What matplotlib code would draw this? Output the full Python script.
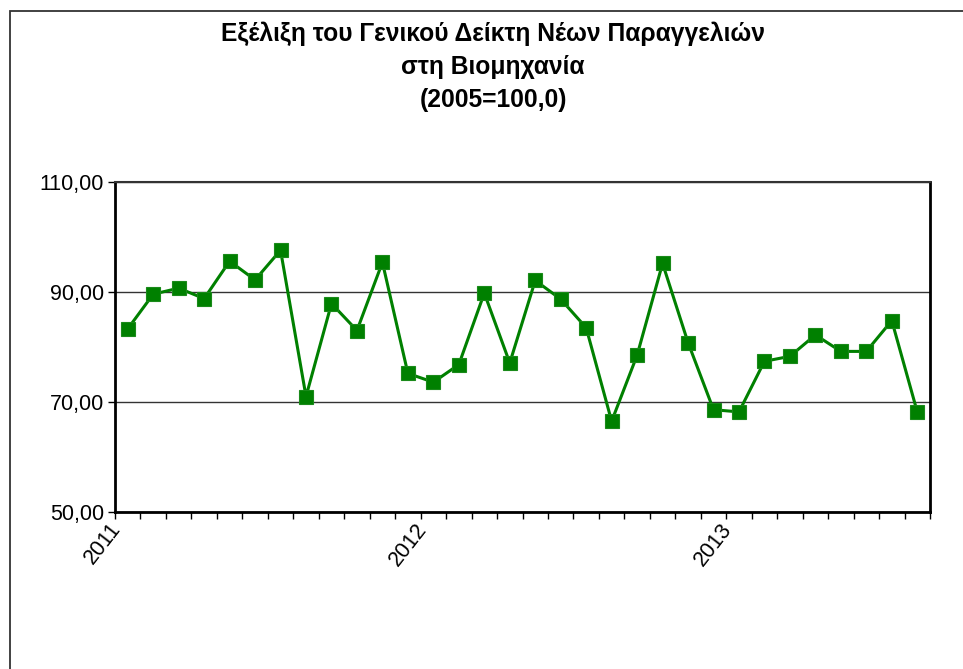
import numpy as np
import matplotlib
matplotlib.use("Agg")
import matplotlib.pyplot as plt
import matplotlib.transforms as mtransforms
from matplotlib.ticker import FixedLocator, FuncFormatter, NullFormatter
from matplotlib.patches import Rectangle

# monthly index, Jan 2011 - Aug 2013
values = [83.3, 89.6, 90.7, 88.8, 95.6, 92.2, 97.6, 71.0, 87.9, 83.0, 95.4, 75.2,
          73.6, 76.8, 89.8, 77.1, 92.1, 88.7, 83.5, 66.5, 78.5, 95.2, 80.8, 68.6,
          68.2, 77.4, 78.3, 82.2, 79.2, 79.2, 84.8, 68.2]
year_labels = ["2011", "2012", "2013"]
year_pos = [0, 12, 24]
y_ticks = [50, 70, 90, 110]

title_lines = ["Εξέλιξη του Γενικού Δείκτη Νέων Παραγγελιών",
               "στη Βιομηχανία",
               "(2005=100,0)"]

plt.rcParams['font.family'] = ['Liberation Sans', 'DejaVu Sans']

fig = plt.figure(figsize=(9.63, 6.69), dpi=100)
W, H = 963, 669

# outer chart border (runs off right and bottom edges)
fig.patches.append(Rectangle((10 / W, -0.05), 1.1, 1 - 11 / H + 0.05,
                             transform=fig.transFigure, fill=False,
                             edgecolor="#333333", linewidth=1.3))

ax = fig.add_axes([115 / W, (H - 512) / H, (930 - 115) / W, (512 - 182) / H])

x = np.arange(len(values))
ax.plot(x, values, color="#008000", linewidth=2.2, marker="s", markersize=10.5,
        markerfacecolor="#008000", markeredgecolor="#1a8a1a", markeredgewidth=0.8,
        zorder=3)

ax.set_xlim(-0.5, len(values) - 0.5)
ax.set_ylim(50, 110)

ax.yaxis.set_major_locator(FixedLocator(y_ticks))
ax.yaxis.set_major_formatter(FuncFormatter(lambda v, p: f"{v:.2f}".replace(".", ",")))
ax.tick_params(axis="y", direction="out", length=5, width=1, labelsize=15.5, pad=3)
ax.grid(axis="y", color="#333333", linewidth=1)

# category ticks at month boundaries, year labels placed by hand
ax.xaxis.set_major_locator(FixedLocator(np.arange(-0.5, len(values), 1.0)))
ax.xaxis.set_major_formatter(NullFormatter())
ax.tick_params(axis="x", direction="out", length=5, width=1)
lab_tr = mtransforms.offset_copy(ax.get_xaxis_transform(), fig=fig, x=-19, y=-7, units="dots")
for pos, lab in zip(year_pos, year_labels):
    ax.text(pos, 0, lab, transform=lab_tr, rotation=52, ha="right", va="top",
            rotation_mode="anchor", fontsize=15.5)

for s in ["left", "bottom", "right"]:
    ax.spines[s].set_linewidth(2)
    ax.spines[s].set_color("black")
ax.spines["top"].set_linewidth(1.5)
ax.spines["top"].set_color("#333333")

for i, line in enumerate(title_lines):
    fig.text(493 / W, 1 - (41 + 33 * i) / H, line, ha="center", va="baseline",
             fontsize=17.7, fontweight="bold")

fig.savefig("out.png", dpi=100)
